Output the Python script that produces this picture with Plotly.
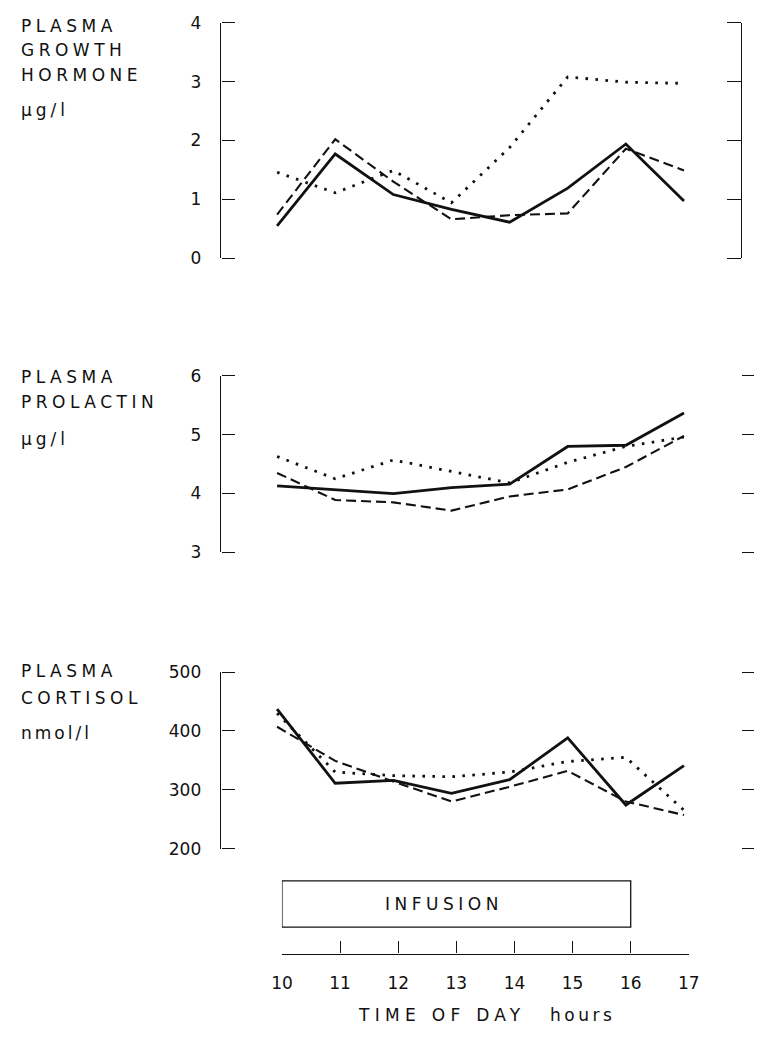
import plotly.graph_objects as go

# ---- data -------------------------------------------------------------
hours = [10, 11, 12, 13, 14, 15, 16, 17]

gh_solid = [0.55, 1.77, 1.08, 0.83, 0.61, 1.19, 1.94, 0.97]
gh_dashed = [0.74, 2.02, 1.30, 0.66, 0.73, 0.76, 1.86, 1.49]
gh_dotted = [1.46, 1.11, 1.49, 0.94, 1.88, 3.08, 2.99, 2.97]

prl_solid = [4.13, 4.07, 4.00, 4.10, 4.16, 4.80, 4.82, 5.37]
prl_dashed = [4.35, 3.89, 3.85, 3.71, 3.95, 4.07, 4.45, 4.98]
prl_dotted = [4.63, 4.25, 4.57, 4.38, 4.18, 4.53, 4.80, 4.96]

cort_solid = [437, 311, 316, 294, 317, 388, 274, 341]
cort_dashed = [407, 349, 314, 280, 305, 332, 280, 257]
cort_dotted = [430, 330, 324, 322, 330, 348, 355, 265]

gh_ticks = [0, 1, 2, 3, 4]
prl_ticks = [3, 4, 5, 6]
cort_ticks = [200, 300, 400, 500]
infusion_span = [10, 16]

# ---- page geometry (pixels) -------------------------------------------
W, H = 762, 1041
INK = "#111111"
FONT = "DejaVu Sans"


def fx(p):
    return p / W


def fy(p):
    return 1 - p / H


PPH = 59.857           # pixels per hour
X0_PX = 274            # where 10 h sits in the data panels
PLOT_L, PLOT_R = 216, 752
x_range = [10 + (PLOT_L - X0_PX) / PPH, 10 + (PLOT_R - X0_PX) / PPH]

panels = [
    # (top px, bottom px, range, ticks, series)
    (13, 253, [0, 4], gh_ticks, (gh_solid, gh_dashed, gh_dotted)),
    (373, 553, [3, 6], prl_ticks, (prl_solid, prl_dashed, prl_dotted)),
    (675, 855, [200, 500], cort_ticks, (cort_solid, cort_dashed, cort_dotted)),
]

styles = [
    dict(width=2.8, dash="solid"),
    dict(width=2.1, dash="10px,5px"),
    dict(width=2.8, dash="2.6px,7.4px"),
]

fig = go.Figure()
layout = dict(
    width=W, height=H,
    margin=dict(l=0, r=0, t=0, b=0, pad=0),
    paper_bgcolor="white", plot_bgcolor="rgba(0,0,0,0)",
    showlegend=False,
    font=dict(family=FONT, size=17, color=INK),
)

TICK = dict(tickwidth=1.3, tickcolor=INK, showgrid=False, zeroline=False)
next_axis = 5

for i, (top, bot, rng, tv, series) in enumerate(panels, start=1):
    sfx = "" if i == 1 else str(i)
    for vals, st in zip(series, styles):
        fig.add_trace(go.Scatter(
            x=hours, y=vals, mode="lines",
            line=dict(color=INK, width=st["width"], dash=st["dash"]),
            xaxis="x" + sfx, yaxis="y" + sfx, hoverinfo="skip",
        ))
    layout["xaxis" + sfx] = dict(
        domain=[fx(PLOT_L), fx(PLOT_R)], range=x_range,
        anchor="y" + sfx, showline=False, showgrid=False, zeroline=False,
        showticklabels=False, ticks="",
    )
    # left scale: line and labels
    layout["yaxis" + sfx] = dict(
        domain=[fy(bot), fy(top)], range=rng, anchor="x" + sfx,
        tickvals=tv, showline=True, linecolor=INK, linewidth=1.3,
        ticks="", ticklabelstandoff=15,
        tickfont=dict(family=FONT, size=17, color=INK),
        showgrid=False, zeroline=False,
    )
    # left scale: tick marks pointing into the panel
    n = next_axis
    next_axis += 1
    layout["yaxis%d" % n] = dict(
        overlaying="y" + sfx, anchor="free", position=fx(PLOT_L), side="right",
        range=rng, tickvals=tv, showline=False, showticklabels=False,
        ticks="outside", ticklen=13, **TICK,
    )
    fig.add_trace(go.Scatter(x=[], y=[], mode="lines", xaxis="x" + sfx,
                             yaxis="y%d" % n, hoverinfo="skip"))
    # right scale
    n = next_axis
    next_axis += 1
    if i == 1:
        right = dict(anchor="free", position=fx(PLOT_R), side="left",
                     showline=True, linecolor=INK, linewidth=1.3, ticklen=14)
    else:
        right = dict(anchor="x" + sfx, side="right", showline=False, ticklen=12)
    layout["yaxis%d" % n] = dict(
        overlaying="y" + sfx, range=rng, tickvals=tv,
        showticklabels=False, ticks="outside", **right, **TICK,
    )
    fig.add_trace(go.Scatter(x=[], y=[], mode="lines", xaxis="x" + sfx,
                             yaxis="y%d" % n, hoverinfo="skip"))

# time axis with the infusion period
AX_BOT, AX_TOP = 962, 880
layout["xaxis4"] = dict(
    domain=[fx(279), fx(698)], range=[hours[0], hours[-1]], anchor="y4",
    tickvals=hours, showgrid=False, zeroline=False,
    showline=True, linecolor=INK, linewidth=1.3,
    ticks="inside", ticklen=12, tickwidth=1.3, tickcolor=INK,
    ticklabelstandoff=14,
    tickfont=dict(family=FONT, size=17, color=INK),
)
layout["yaxis4"] = dict(domain=[fy(AX_BOT), fy(AX_TOP)], range=[0, 1],
                        anchor="x4", visible=False)


def sy4(p):
    return (AX_BOT - p) / (AX_BOT - AX_TOP)


shapes = [dict(type="rect", xref="x4", yref="y4",
               x0=infusion_span[0], x1=infusion_span[1],
               y0=sy4(935), y1=sy4(888),
               line=dict(color=INK, width=1.3), fillcolor="rgba(0,0,0,0)")]


def spaced(text, ls):
    return '<span style="letter-spacing:%.1fpx">%s</span>' % (ls, text)


annotations = [dict(xref="x4", yref="y4", x=12.78, y=sy4(912),
                    text=spaced("INFUSION", 4.5), showarrow=False,
                    xanchor="center", yanchor="middle",
                    font=dict(family=FONT, size=17, color=INK))]

side_labels = [
    ("PLASMA", 16, 4.5), ("GROWTH", 41, 4.5), ("HORMONE", 66, 4.5), ("µg/l", 102, 4.0),
    ("PLASMA", 374, 4.5), ("PROLACTIN", 400, 4.5), ("µg/l", 437, 4.0),
    ("PLASMA", 674, 4.5), ("CORTISOL", 701, 4.5), ("nmol/l", 737, 3.0),
]
for txt, ypix, ls in side_labels:
    annotations.append(dict(
        xref="paper", yref="paper", x=fx(8), y=fy(ypix),
        text=spaced(txt, ls), showarrow=False,
        xanchor="left", yanchor="middle",
        font=dict(family=FONT, size=17, color=INK)))

annotations.append(dict(xref="paper", yref="paper", x=fx(355), y=fy(1025),
                        text=spaced("TIME OF DAY", 5.3), showarrow=False,
                        xanchor="left", yanchor="middle",
                        font=dict(family=FONT, size=17, color=INK)))
annotations.append(dict(xref="paper", yref="paper", x=fx(553), y=fy(1025),
                        text=spaced("hours", 3.5), showarrow=False,
                        xanchor="left", yanchor="middle",
                        font=dict(family=FONT, size=17, color=INK)))

layout["shapes"] = shapes
layout["annotations"] = annotations
fig.update_layout(**layout)

fig.write_html("out.html")
